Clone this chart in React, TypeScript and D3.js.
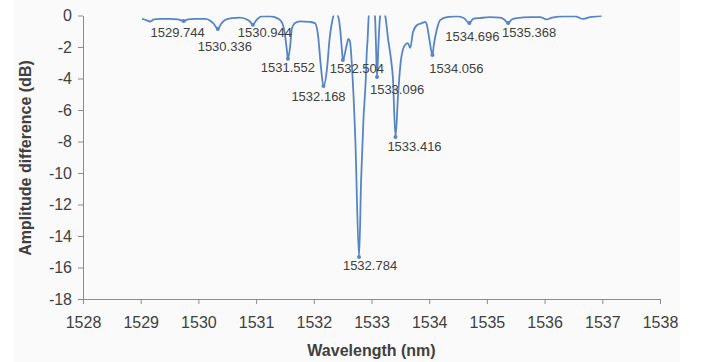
import React, { useEffect, useRef } from 'react'
import * as d3 from 'd3'

// spectrum trace
const wavelength = [
  1529.023, 1529.092, 1529.161, 1529.23, 1529.334, 1529.508, 1529.646, 1529.744, 1529.82, 1529.941,
  1530.114, 1530.2, 1530.27, 1530.336, 1530.392, 1530.461, 1530.582, 1530.721, 1530.825, 1530.894,
  1530.944, 1531.005, 1531.102, 1531.241, 1531.38, 1531.45, 1531.501, 1531.535, 1531.552, 1531.587,
  1531.622, 1531.674, 1531.761, 1531.934, 1532.02, 1532.073, 1532.125, 1532.168, 1532.23, 1532.27,
  1532.32, 1532.37, 1532.42, 1532.455, 1532.49, 1532.504, 1532.57, 1532.6, 1532.625, 1532.67,
  1532.72, 1532.784, 1532.82, 1532.86, 1532.9, 1532.92, 1532.93, 1532.96, 1533.01,
  1533.06, 1533.075, 1533.096, 1533.12, 1533.15, 1533.18, 1533.23, 1533.29, 1533.34, 1533.37,
  1533.416, 1533.46, 1533.51, 1533.58, 1533.63, 1533.67, 1533.72, 1533.79, 1533.875, 1533.93,
  1533.96, 1534.01, 1534.056, 1534.08, 1534.13, 1534.19, 1534.31, 1534.48, 1534.6, 1534.696,
  1534.76, 1534.88, 1535.05, 1535.23, 1535.3, 1535.368, 1535.43, 1535.52, 1535.75, 1535.92,
  1536.04, 1536.13, 1536.35, 1536.53, 1536.67, 1536.79, 1536.91, 1536.99,
]
const amplitude = [
  -0.22, -0.29, -0.38, -0.25, -0.22, -0.22, -0.25, -0.35, -0.25, -0.22,
  -0.22, -0.32, -0.54, -0.86, -0.54, -0.29, -0.16, -0.13, -0.22, -0.38,
  -0.58, -0.29, -0.06, -0.06, -0.2, -0.45, -1.24, -2.25, -2.74, -2.06,
  -0.8, -0.48, -0.37, -0.41, -0.48, -1.24, -3.33, -4.48, -3.33, -1.62,
  -0.35, 0.2, -0.03, -0.8, -2.3, -2.83, -1.87, -1.49, -1.62, -3.78,
  -7.9, -15.33, -10.44, -6.63, -4.1, -2.19, -1.68, 0.3, 0.3,
  -0.03, -1.56, -3.9, -1.87, -0.03, 0.3, 0.1, -1.56, -2.83, -3.9,
  -7.71, -5.05, -2.83, -1.87, -1.75, -2.06, -1.05, -0.6, -0.48, -0.41,
  -0.6, -1.68, -2.51, -1.87, -0.92, -0.29, -0.1, -0.06, -0.16, -0.48,
  -0.22, -0.16, -0.1, -0.13, -0.25, -0.48, -0.25, -0.16, -0.1, -0.1,
  -0.25, -0.13, -0.06, -0.06, -0.22, -0.1, -0.06, -0.03,
]

// labelled dips
const peakWavelengths = [
  1529.744, 1530.336, 1530.944, 1531.552, 1532.168, 1532.504,
  1532.784, 1533.096, 1533.416, 1534.056, 1534.696, 1535.368,
]
const peakAmplitudes = [-0.35, -0.86, -0.58, -2.74, -4.48, -2.83, -15.33, -3.9, -7.71, -2.51, -0.48, -0.48]
// label offsets in px from the marker (layout only)
const labelOffsets: [number, number][] = [
  [-6, 11], [7, 17], [12, 8], [0, 9], [-5, 10], [14, 8],
  [11, 9], [20, 13], [19, 10], [24, 13], [3, 13], [21, 9],
]

const xTicks = d3.range(1528, 1539, 1)
const yTicks = d3.range(-18, 1, 2)

const W = 709
const H = 362
const lineColor = '#5585c5'
const textColor = '#404040'
const axisColor = '#8c8c8c'
const font = 'Arial, "Liberation Sans", sans-serif'

export default function App() {
  const ref = useRef<SVGSVGElement>(null)

  useEffect(() => {
    const svg = d3.select(ref.current)
    svg.selectAll('*').remove()

    const x = d3.scaleLinear().domain([1528, 1538]).range([83, 660])
    const y = d3.scaleLinear().domain([-18, 0]).range([299, 15.5])

    svg.append('rect').attr('x', 0).attr('y', 0).attr('width', W).attr('height', H).attr('fill', '#ffffff')
    svg.append('rect').attr('x', 14).attr('y', 0).attr('width', 666).attr('height', H).attr('fill', '#fafafa')

    svg.append('clipPath').attr('id', 'plot-clip')
      .append('rect').attr('x', 83).attr('y', 15.5).attr('width', 577).attr('height', 283.5)

    // y axis
    const gy = svg.append('g')
      .attr('transform', 'translate(83,0)')
      .call(d3.axisLeft(y).tickValues(yTicks).tickSize(5).tickPadding(6).tickSizeOuter(0).tickFormat(d3.format('d')))
    gy.select('.domain').attr('stroke', axisColor)
    gy.selectAll('.tick line').attr('stroke', axisColor)
    gy.selectAll('.tick text')
      .attr('fill', textColor)
      .style('font-family', font)
      .style('font-size', '16px')
      .text((d: any) => String(d))

    // x axis
    const gx = svg.append('g')
      .attr('transform', 'translate(0,299)')
      .call(d3.axisBottom(x).tickValues(xTicks).tickSize(5).tickPadding(13).tickSizeOuter(0).tickFormat(d3.format('d')))
    gx.select('.domain').attr('stroke', axisColor)
    gx.selectAll('.tick line').attr('stroke', axisColor)
    gx.selectAll('.tick text')
      .attr('fill', textColor)
      .style('font-family', font)
      .style('font-size', '16px')

    // spectrum
    const points = wavelength.map((w, i) => [w, amplitude[i]] as [number, number])
    const line = d3.line<[number, number]>()
      .x(d => x(d[0]))
      .y(d => y(d[1]))
      .curve(d3.curveMonotoneX)

    svg.append('path')
      .datum(points)
      .attr('clip-path', 'url(#plot-clip)')
      .attr('fill', 'none')
      .attr('stroke', lineColor)
      .attr('stroke-width', 1.8)
      .attr('stroke-linejoin', 'round')
      .attr('d', line)

    // markers + labels
    const peaks = peakWavelengths.map((w, i) => ({ w, v: peakAmplitudes[i], off: labelOffsets[i] }))
    svg.selectAll('.peak')
      .data(peaks)
      .enter().append('circle')
      .attr('class', 'peak')
      .attr('cx', d => x(d.w))
      .attr('cy', d => y(d.v))
      .attr('r', 2)
      .attr('fill', lineColor)

    svg.selectAll('.peak-label')
      .data(peaks)
      .enter().append('text')
      .attr('class', 'peak-label')
      .attr('x', d => x(d.w) + d.off[0])
      .attr('y', d => y(d.v) + d.off[1])
      .attr('dy', '0.35em')
      .attr('text-anchor', 'middle')
      .attr('fill', textColor)
      .style('font-family', font)
      .style('font-size', '13px')
      .text(d => d.w.toFixed(3))

    // titles
    svg.append('text')
      .attr('x', 371.5)
      .attr('y', 356)
      .attr('text-anchor', 'middle')
      .attr('fill', textColor)
      .style('font-family', font)
      .style('font-size', '16px')
      .style('font-weight', 'bold')
      .text('Wavelength (nm)')

    svg.append('text')
      .attr('transform', 'translate(31,158) rotate(-90)')
      .attr('text-anchor', 'middle')
      .attr('fill', textColor)
      .style('font-family', font)
      .style('font-size', '16px')
      .style('font-weight', 'bold')
      .text('Amplitude difference (dB)')
  }, [])

  return (
    <svg
      ref={ref}
      width={W}
      height={H}
      style={{ position: 'absolute', left: 0, top: 0, display: 'block' }}
    />
  )
}
